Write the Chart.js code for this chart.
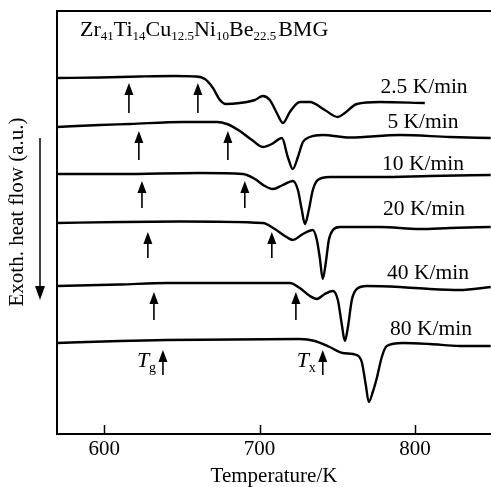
<!DOCTYPE html>
<html>
<head>
<meta charset="utf-8">
<script src="https://cdn.jsdelivr.net/npm/chart.js@4/dist/chart.umd.min.js"></script>
<style>
  html, body { margin: 0; padding: 0; background: #fff; }
  canvas { display: block; }
</style>
</head>
<body>
<canvas id="dsc" width="491" height="487"></canvas>
<script>
// heating rates (one DSC trace each)
const rateLabels = ['2.5 K/min', '5 K/min', '10 K/min', '20 K/min', '40 K/min', '80 K/min'];

// temperature (K) / heat flow (a.u., stacked)
const temps1 = [569.6, 597.2, 623.0, 645.5, 658.4, 664.8, 670.0, 674.5, 678.3, 687.3, 697.0, 702.1, 706.6, 711.1, 715.0, 719.5, 725.9, 732.4, 742.0, 750.4, 754.9, 762.6, 777.4, 806.4];
const flow1  = [35.6, 35.65, 35.75, 35.8, 35.75, 35.5, 34.6, 33.4, 33.0, 33.1, 33.4, 33.8, 33.4, 32.1, 31.1, 32.2, 33.2, 33.2, 32.4, 31.7, 32.1, 33.0, 33.2, 33.1];

const temps2 = [569.6, 597.2, 616.5, 650.6, 672.5, 679.0, 687.3, 695.1, 702.1, 707.9, 714.4, 718.2, 721.4, 724.7, 727.9, 732.4, 740.7, 758.1, 790.3, 822.5, 848.8];
const flow2  = [30.7, 30.9, 31.0, 31.2, 31.2, 31.0, 30.3, 29.4, 28.7, 29.0, 29.6, 27.7, 26.5, 27.7, 29.2, 29.7, 29.9, 29.65, 29.9, 29.7, 29.6];

const temps3 = [569.6, 610.1, 661.6, 689.3, 697.0, 703.4, 708.6, 715.0, 721.4, 724.7, 727.2, 729.2, 731.7, 734.3, 737.5, 745.2, 777.4, 809.6, 848.8];
const flow3  = [26.0, 26.0, 26.1, 26.0, 25.5, 24.8, 24.5, 24.9, 25.3, 24.4, 22.4, 21.0, 22.4, 24.4, 25.4, 25.7, 25.7, 25.8, 25.9];

const temps4 = [569.6, 610.1, 648.7, 702.1, 709.8, 716.3, 721.4, 727.9, 734.3, 736.9, 738.8, 740.7, 742.7, 744.6, 747.2, 751.7, 777.4, 803.2, 822.5, 848.8];
const flow4  = [21.1, 21.2, 21.25, 21.1, 20.5, 19.8, 19.4, 20.0, 20.4, 19.4, 17.6, 15.5, 17.2, 19.4, 20.4, 20.7, 20.7, 20.5, 20.6, 20.7];

const temps5 = [569.6, 610.1, 640.4, 719.5, 725.9, 732.4, 736.9, 742.0, 747.2, 750.4, 753.0, 754.9, 756.8, 759.4, 762.6, 769.1, 790.3, 809.6, 828.9, 848.8];
const flow5  = [14.8, 14.95, 15.1, 15.1, 14.6, 13.8, 13.5, 14.0, 14.3, 13.4, 10.9, 9.3, 10.6, 13.4, 14.5, 14.8, 14.7, 14.5, 14.4, 14.7];

const temps6 = [569.6, 610.1, 640.4, 725.9, 735.6, 745.2, 753.6, 762.6, 765.8, 768.4, 770.3, 772.9, 775.5, 778.7, 781.9, 792.2, 809.6, 828.9, 848.8];
const flow6  = [9.1, 9.3, 9.4, 9.5, 9.3, 8.7, 8.1, 7.9, 7.2, 4.9, 3.2, 4.2, 5.6, 7.7, 8.8, 9.1, 9.0, 8.8, 8.8];

// Tg and Tx markers, one per trace
const tgTemps = [615.9, 622.3, 624.3, 628.1, 632.0, 637.8];
const txTemps = [660.3, 679.6, 690.5, 707.9, 723.4, 740.7];
const arrowTips  = [35.1, 30.3, 25.3, 20.2, 14.2, 8.4];
const arrowBases = [32.1, 27.4, 22.6, 17.6, 11.4, 5.9];

const xTicks = [600, 700, 800];

const allTemps = [temps1, temps2, temps3, temps4, temps5, temps6];
const allFlows = [flow1, flow2, flow3, flow4, flow5, flow6];

const serif = "'Liberation Serif', 'Times New Roman', serif";

function drawArrow(ctx, px, yTip, yBase, headLen, headW, lw) {
  const d = Math.sign(yBase - yTip);
  ctx.lineWidth = lw;
  ctx.beginPath();
  ctx.moveTo(px, yBase);
  ctx.lineTo(px, yTip + d * headLen * 0.7);
  ctx.stroke();
  ctx.beginPath();
  ctx.moveTo(px, yTip);
  ctx.lineTo(px - headW / 2, yTip + d * headLen);
  ctx.lineTo(px + headW / 2, yTip + d * headLen);
  ctx.closePath();
  ctx.fill();
}

const annotations = {
  id: 'annotations',
  afterDraw(chart) {
    const { ctx, chartArea: a, scales: { x, y } } = chart;
    ctx.save();
    ctx.strokeStyle = '#000';
    ctx.fillStyle = '#000';

    // top frame line
    ctx.lineWidth = 2;
    ctx.beginPath();
    ctx.moveTo(a.left - 1, a.top);
    ctx.lineTo(a.right, a.top);
    ctx.stroke();

    // inward ticks on the temperature axis
    ctx.lineWidth = 1.5;
    xTicks.forEach(v => {
      const px = Math.round(x.getPixelForValue(v)) + 0.5;
      ctx.beginPath();
      ctx.moveTo(px, a.bottom);
      ctx.lineTo(px, a.bottom - 9);
      ctx.stroke();
    });

    // Tg / Tx arrows
    for (let i = 0; i < tgTemps.length; i++) {
      const yt = y.getPixelForValue(arrowTips[i]);
      const yb = y.getPixelForValue(arrowBases[i]);
      drawArrow(ctx, x.getPixelForValue(tgTemps[i]), yt, yb, 12, 9, 1.6);
      drawArrow(ctx, x.getPixelForValue(txTemps[i]), yt, yb, 12, 9, 1.6);
    }

    // Tg / Tx symbols on the last trace
    const symY = 367;
    [['g', tgTemps[5]], ['x', txTemps[5]]].forEach(([sub, t]) => {
      const px = x.getPixelForValue(t);
      ctx.textAlign = 'left';
      ctx.textBaseline = 'alphabetic';
      ctx.font = `italic 22px ${serif}`;
      ctx.fillText('T', px - 26, symY);
      ctx.font = `14px ${serif}`;
      ctx.fillText(sub, px - 14, symY + 5);
    });

    // heating rate labels
    const labelX = [424, 423, 423, 424, 428, 431];
    const labelY = [93, 128, 170, 215, 279, 335];
    ctx.font = `21.5px ${serif}`;
    ctx.textAlign = 'center';
    ctx.textBaseline = 'alphabetic';
    rateLabels.forEach((t, i) => ctx.fillText(t, labelX[i], labelY[i]));

    // alloy name with subscripts
    const parts = [['Zr', 0], ['41', 1], ['Ti', 0], ['14', 1], ['Cu', 0], ['12.5', 1],
                   ['Ni', 0], ['10', 1], ['Be', 0], ['22.5', 1], ['BMG', 0]];
    let cx = 80;
    ctx.textAlign = 'left';
    parts.forEach(([txt, sub]) => {
      ctx.font = sub ? `13px ${serif}` : `22px ${serif}`;
      if (txt === 'BMG') cx += 2;
      ctx.fillText(txt, cx, sub ? 40 : 36);
      cx += ctx.measureText(txt).width;
    });

    // y axis title and arrow
    ctx.save();
    ctx.translate(17.5, 212);
    ctx.rotate(-Math.PI / 2);
    ctx.font = `21px ${serif}`;
    ctx.textAlign = 'center';
    ctx.textBaseline = 'middle';
    ctx.fillText('Exoth. heat flow (a.u.)', 0, 0);
    ctx.restore();
    drawArrow(ctx, 40, 300, 138, 14, 10, 1.5);

    ctx.restore();
  }
};

const datasets = allTemps.map((temps, i) => ({
  label: rateLabels[i],
  data: temps.map((t, j) => ({ x: t, y: allFlows[i][j] })),
  borderColor: '#000',
  borderWidth: 2.4,
  pointRadius: 0,
  fill: false,
  cubicInterpolationMode: 'monotone'
}));

new Chart(document.getElementById('dsc').getContext('2d'), {
  type: 'line',
  data: { datasets },
  options: {
    responsive: false,
    devicePixelRatio: 1,
    animation: false,
    layout: { padding: { left: 0, top: 11, right: 0, bottom: 0 } },
    plugins: { legend: { display: false }, tooltip: { enabled: false } },
    scales: {
      x: {
        type: 'linear',
        min: 569.6,
        max: 849,
        afterBuildTicks: s => { s.ticks = xTicks.map(v => ({ value: v })); },
        afterFit: s => { s.height = 53; },
        grid: { display: false, drawTicks: false },
        border: { display: true, color: '#000', width: 2 },
        ticks: { color: '#000', padding: 3, font: { family: serif, size: 21 } },
        title: {
          display: true,
          text: 'Temperature/K',
          color: '#000',
          font: { family: serif, size: 21, lineHeight: 1 },
          padding: { top: 0, bottom: 0 }
        }
      },
      y: {
        type: 'linear',
        min: 0,
        max: 42.3,
        afterFit: s => { s.width = 57; },
        grid: { display: false, drawTicks: false },
        border: { display: true, color: '#000', width: 2 },
        ticks: { display: false }
      }
    }
  },
  plugins: [annotations]
});
</script>
</body>
</html>
